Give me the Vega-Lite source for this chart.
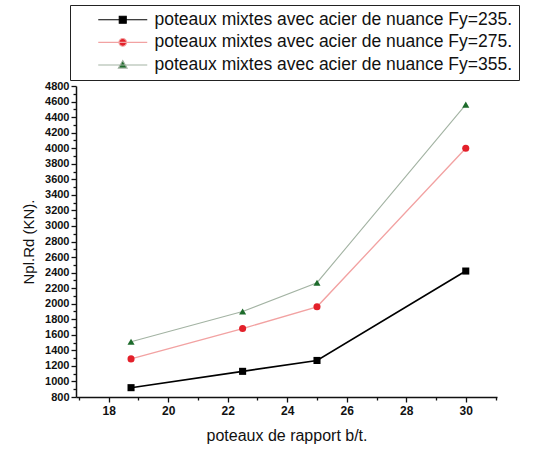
{
  "$schema": "https://vega.github.io/schema/vega-lite/v6.json",
  "width": 421,
  "height": 311,
  "autosize": {"type": "none"},
  "padding": {"left": 76, "top": 86, "right": 41, "bottom": 53},
  "background": "white",
  "config": {
    "view": {"stroke": null},
    "font": "Liberation Sans",
    "axis": {"grid": false, "domainColor": "#111", "tickColor": "#111", "domainWidth": 1.5, "tickWidth": 1.3, "labelColor": "#111", "titleColor": "#111", "labelFont": "Liberation Sans", "titleFont": "Liberation Sans", "titleFontWeight": "normal"},
    "legend": {"orient": "none", "legendX": -6, "legendY": -81, "title": null, "padding": 6, "strokeColor": "#222", "labelFont": "Liberation Sans", "labelFontSize": 17.5, "labelColor": "#111", "labelLimit": 500, "symbolSize": 49, "symbolStrokeWidth": 1.1, "symbolOffset": 38, "labelOffset": 23, "rowPadding": 3.6}
  },
  "datasets": {"pts": [
    {"bt": 18.75, "npl": 920, "serie": "poteaux mixtes avec acier de nuance Fy=235."},
    {"bt": 22.5, "npl": 1130, "serie": "poteaux mixtes avec acier de nuance Fy=235."},
    {"bt": 25, "npl": 1270, "serie": "poteaux mixtes avec acier de nuance Fy=235."},
    {"bt": 30, "npl": 2420, "serie": "poteaux mixtes avec acier de nuance Fy=235."},
    {"bt": 18.75, "npl": 1290, "serie": "poteaux mixtes avec acier de nuance Fy=275."},
    {"bt": 22.5, "npl": 1680, "serie": "poteaux mixtes avec acier de nuance Fy=275."},
    {"bt": 25, "npl": 1960, "serie": "poteaux mixtes avec acier de nuance Fy=275."},
    {"bt": 30, "npl": 4000, "serie": "poteaux mixtes avec acier de nuance Fy=275."},
    {"bt": 18.75, "npl": 1510, "serie": "poteaux mixtes avec acier de nuance Fy=355."},
    {"bt": 22.5, "npl": 1900, "serie": "poteaux mixtes avec acier de nuance Fy=355."},
    {"bt": 25, "npl": 2270, "serie": "poteaux mixtes avec acier de nuance Fy=355."},
    {"bt": 30, "npl": 4560, "serie": "poteaux mixtes avec acier de nuance Fy=355."}
  ]},
  "data": {"name": "pts"},
  "layer": [
    {
      "mark": {"type": "line"},
      "encoding": {
        "x": {"field": "bt", "type": "quantitative", "scale": {"domain": [16.9, 31.05], "nice": false, "zero": false},
          "axis": {"orient": "bottom", "title": "poteaux de rapport b/t.", "values": [18, 20, 22, 24, 26, 28, 30], "format": "d", "tickSize": 5, "labelFontSize": 12, "labelFontWeight": "bold", "labelPadding": 3, "titleFontSize": 16, "titlePadding": 11}},
        "y": {"field": "npl", "type": "quantitative", "scale": {"domain": [800, 4800], "nice": false, "zero": false},
          "axis": {"orient": "left", "title": "Npl.Rd (KN).", "values": [800, 1000, 1200, 1400, 1600, 1800, 2000, 2200, 2400, 2600, 2800, 3000, 3200, 3400, 3600, 3800, 4000, 4200, 4400, 4600, 4800], "format": "d", "tickSize": 5, "labelFontSize": 11, "labelFontWeight": "bold", "labelPadding": 2, "titleFontSize": 15, "titlePadding": 8}},
        "stroke": {"field": "serie", "type": "nominal", "scale": {"range": ["#000000", "#f2a2a2", "#a3b3a3"]}, "legend": null},
        "strokeWidth": {"field": "serie", "type": "nominal", "scale": {"range": [1.6, 1.1, 1.1]}, "legend": null}
      }
    },
    {
      "mark": {"type": "point", "filled": true, "size": 50, "opacity": 1},
      "encoding": {
        "x": {"field": "bt", "type": "quantitative", "axis": null},
        "y": {"field": "npl", "type": "quantitative", "axis": null},
        "color": {"field": "serie", "type": "nominal", "scale": {"range": ["#000000", "#e3202a", "#1d6b2b"]}, "legend": null},
        "shape": {"field": "serie", "type": "nominal", "scale": {"range": ["square", "circle", "triangle-up"]}, "legend": null}
      }
    },
    {
      "mark": {"type": "point", "opacity": 0},
      "encoding": {
        "x": {"field": "bt", "type": "quantitative", "axis": {"orient": "bottom", "title": null, "values": [17, 19, 21, 23, 25, 27, 29, 31], "labels": false, "domain": false, "tickSize": 3}},
        "y": {"field": "npl", "type": "quantitative", "axis": {"orient": "left", "title": null, "values": [900, 1100, 1300, 1500, 1700, 1900, 2100, 2300, 2500, 2700, 2900, 3100, 3300, 3500, 3700, 3900, 4100, 4300, 4500, 4700], "labels": false, "domain": false, "tickSize": 3}}
      }
    },
    {
      "transform": [{"filter": "datum.npl < 0"}],
      "mark": {"type": "point", "filled": false, "size": 49, "strokeWidth": 1.1, "opacity": 1},
      "encoding": {
        "color": {"field": "serie", "type": "nominal", "scale": {"domain": ["poteaux mixtes avec acier de nuance Fy=235.", "poteaux mixtes avec acier de nuance Fy=275.", "poteaux mixtes avec acier de nuance Fy=355."], "range": ["#000000", "#f2a2a2", "#a3b3a3"]}, "legend": {}},
        "fill": {"field": "serie", "type": "nominal", "scale": {"domain": ["poteaux mixtes avec acier de nuance Fy=235.", "poteaux mixtes avec acier de nuance Fy=275.", "poteaux mixtes avec acier de nuance Fy=355."], "range": ["#000000", "#e3202a", "#1d6b2b"]}, "legend": {}},
        "shape": {"field": "serie", "type": "nominal", "scale": {"domain": ["poteaux mixtes avec acier de nuance Fy=235.", "poteaux mixtes avec acier de nuance Fy=275.", "poteaux mixtes avec acier de nuance Fy=355."], "range": ["M-7,0H7M-1,-1H1V1H-1Z", "M-7,0H7M1.1,0A1.1,1.1 0 1,1 -1.1,0A1.1,1.1 0 1,1 1.1,0Z", "M-7,0H7M0,-1.25L1.25,0.9H-1.25Z"]}, "legend": {}}
      }
    }
  ],
  "resolve": {"axis": {"x": "independent", "y": "independent"}, "scale": {"color": "independent", "shape": "independent", "fill": "independent"}}
}
